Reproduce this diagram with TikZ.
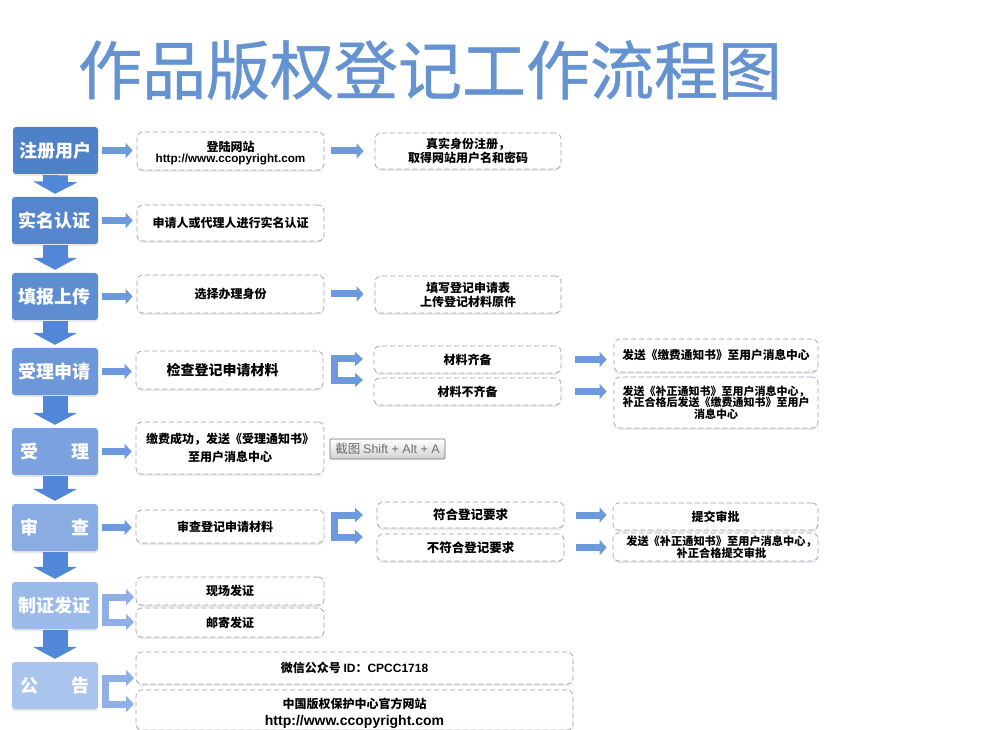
\documentclass[tikz,border=0pt]{standalone}
\usepackage{fontspec}
\setmainfont{Noto Sans CJK SC}
\newfontfamily\lat{Liberation Sans}
\newfontfamily\titlefont[FakeBold=0.7]{Noto Sans CJK SC}
\newcommand{\smallA}{\fontsize{11}{11.5}\selectfont}
\newcommand{\smallB}{\fontsize{11.2}{12.5}\selectfont}
\usetikzlibrary{arrows.meta,shadows}
\definecolor{titleblue}{HTML}{6593D2}
\definecolor{downblue}{HTML}{5087D8}
\definecolor{rowblue}{HTML}{6C9ADC}
\definecolor{forkpale}{HTML}{8FB0E6}
\definecolor{dashgray}{HTML}{9AA6B8}
\definecolor{btngray}{HTML}{6E6E6E}
\definecolor{boxa}{HTML}{4F81C9}
\definecolor{boxb}{HTML}{5585CC}
\definecolor{boxc}{HTML}{5F8DD2}
\definecolor{boxd}{HTML}{6C97D8}
\definecolor{boxe}{HTML}{7BA2DE}
\definecolor{boxf}{HTML}{89ADE3}
\definecolor{boxg}{HTML}{9ABAE9}
\definecolor{boxh}{HTML}{A9C5EE}
\tikzset{
  x=1pt,y=-1pt,
  leftbox/.style={rounded corners=3pt,inner sep=0pt,text=white,font=\fontsize{18}{20}\selectfont\bfseries,
    drop shadow={opacity=.18,shadow xshift=0pt,shadow yshift=-2pt}},
  dashbox/.style={draw=dashgray,fill=white,dashed,dash pattern=on 5pt off 3pt,line width=.7pt,rounded corners=6pt,inner sep=0pt,align=center,
    font=\fontsize{12}{14}\selectfont\bfseries,text=black,
    drop shadow={opacity=.16,shadow xshift=0pt,shadow yshift=-2pt}},
  downarrow/.style={draw=downblue,line width=25pt,-{Triangle[length=12pt,width=44pt]},shorten >=3pt,shorten <=1pt},
  rowarrow/.style={draw=rowblue,line width=7pt,-{Triangle[length=7pt,width=15pt]}},
  fork/.style={draw=rowblue,line width=7pt,line join=miter,{Triangle[length=8pt,width=14pt]}-{Triangle[length=8pt,width=14pt]}},
  palefork/.style={draw=forkpale,line width=7pt,line join=miter,{Triangle[length=8pt,width=16pt]}-{Triangle[length=8pt,width=16pt]}},
}
% name, x1, y1, x2, y2, colour, text
\newcommand{\lbx}[7]{\node[leftbox,fill=#6,minimum width={(#4-#2)*1pt},minimum height={(#5-#3)*1pt}] (#1) at ({(#2+#4)/2},{(#3+#5)/2}) {#7};}
\newcommand{\dbx}[6]{\node[dashbox,minimum width={(#4-#2)*1pt},minimum height={(#5-#3)*1pt}] (#1) at ({(#2+#4)/2},{(#3+#5)/2}) {#6};}
\begin{document}
\begin{tikzpicture}
\useasboundingbox (0,0) rectangle (1005,730);
\fill[white] (0,0) rectangle (1005,730);
% title
\node[inner sep=0pt,text=titleblue,font=\titlefont\fontsize{64}{66}\selectfont] (title) at (430,70) {作品版权登记工作流程图};
% left column
\lbx{a1}{13}{127}{98}{174}{boxa}{注册用户}
\lbx{a2}{12}{197}{98}{244}{boxb}{实名认证}
\lbx{a3}{12}{273}{98}{320}{boxc}{填报上传}
\lbx{a4}{12}{348}{98}{395}{boxd}{受理申请}
\lbx{a5}{12}{428}{98}{475}{boxe}{受\hspace{34pt}理}
\lbx{a6}{12}{504}{98}{551}{boxf}{审\hspace{34pt}查}
\lbx{a7}{12}{582}{98}{629}{boxg}{制证发证}
\lbx{a8}{12}{662}{98}{709}{boxh}{公\hspace{34pt}告}
% column 2
\dbx{b1}{137}{132}{324}{170}{\rule{0pt}{14pt}登陆网站\\[-2.5pt]{\lat\fontsize{11.7}{14}\selectfont http://www.ccopyright.com}}
\dbx{b2}{137}{205}{324}{241}{申请人或代理人进行实名认证}
\dbx{b3}{137}{275}{324}{313}{选择办理身份}
\dbx{b4}{136}{351}{323}{389}{\fontsize{14}{16}\selectfont 检查登记申请材料\hspace*{14pt}}
\dbx{b5}{136}{422}{324}{474}{缴费成功，发送《受理通知书》\\[4pt]至用户消息中心}
\dbx{b6}{136}{510}{324}{543}{审查登记申请材料\hspace*{10pt}}
\dbx{b7}{136}{577}{324}{605}{现场发证}
\dbx{b8}{136}{608}{324}{637}{邮寄发证}
\dbx{b9}{136}{652}{573}{684}{微信公众号 {\lat ID}：{\lat CPCC1718}}
\dbx{b10}{136}{690}{573}{730}{\rule{0pt}{16pt}中国版权保护中心官方网站\\[3pt]{\lat\fontsize{14}{15}\selectfont http://www.ccopyright.com}}
% column 3
\dbx{c1}{375}{133}{561}{169}{真实身份注册，\\取得网站用户名和密码}
\dbx{c3}{375}{276}{561}{313}{填写登记申请表\\上传登记材料原件}
\dbx{c4}{374}{346}{561}{373}{材料齐备}
\dbx{c5}{374}{378}{561}{405}{材料不齐备}
\dbx{c6}{377}{502}{564}{528}{\fontsize{12.5}{14}\selectfont 符合登记要求}
\dbx{c7}{377}{534}{564}{561}{\fontsize{12.5}{14}\selectfont 不符合登记要求}
% column 4
\dbx{d4}{614}{339}{818}{372}{\fontsize{11.7}{14}\selectfont 发送《缴费通知书》至用户消息中心}
\dbx{d5}{614}{377}{818}{428}{\smallA 发送《补正通知书》至用户消息中心，\\[-2.5pt]\smallA 补正合格后发送《缴费通知书》至用户\\[-2.5pt]\smallA 消息中心}
\dbx{d6}{613}{503}{818}{530}{提交审批}
\dbx{d7}{613}{533}{818}{561}{\smallB\hspace*{12pt}发送《补正通知书》至用户消息中心，\\[-1.5pt]\smallB\hspace*{12pt}补正合格提交审批}
% screenshot button
\node[draw=btngray,rounded corners=1pt,line width=.7pt,top color=white,bottom color=black!18,text=btngray,inner sep=0pt,
  minimum width=115pt,minimum height=20pt,font=\fontsize{12.5}{14}\selectfont] (btn) at (387.5,449) {截图 {\lat Shift + Alt + A}};
% vertical arrows
\foreach \p/\q in {a1/a2,a2/a3,a3/a4,a4/a5,a5/a6,a6/a7,a7/a8}
  \draw[downarrow] (\p.south) -- (\q.north);
% row arrows
\foreach \p/\q in {a1/b1,a2/b2,a3/b3,a4/b4,a5/b5,a6/b6}
  \draw[rowarrow,shorten <=4pt,shorten >=4pt] (\p.east) -- (\p.east -| \q.west);
\foreach \p/\q in {b1/c1,b3/c3}
  \draw[rowarrow,shorten <=7pt,shorten >=11pt] (\p.east) -- (\p.east -| \q.west);
\foreach \p/\q in {c4/d4,c5/d5}
  \draw[rowarrow,shorten <=14pt,shorten >=7pt] (\p.east) -- (\p.east -| \q.west);
\foreach \p/\q in {c6/d6,c7/d7}
  \draw[rowarrow,shorten <=12pt,shorten >=6pt] (\p.east) -- (\p.east -| \q.west);
% forks
\coordinate (f4a) at (363,359); \coordinate (f4b) at (363,380); \coordinate (f4m) at (334.5,370);
\draw[fork] (f4a) -| (f4m) |- (f4b);
\coordinate (f6a) at (363,515); \coordinate (f6b) at (363,537); \coordinate (f6m) at (334.5,526);
\draw[fork] (f6a) -| (f6m) |- (f6b);
\coordinate (f7a) at (134,597); \coordinate (f7b) at (134,622); \coordinate (f7m) at (105.5,610);
\draw[palefork] (f7a) -| (f7m) |- (f7b);
\coordinate (f8a) at (134,678); \coordinate (f8b) at (134,704); \coordinate (f8m) at (105.5,691);
\draw[palefork] (f8a) -| (f8m) |- (f8b);
\end{tikzpicture}
\end{document}
